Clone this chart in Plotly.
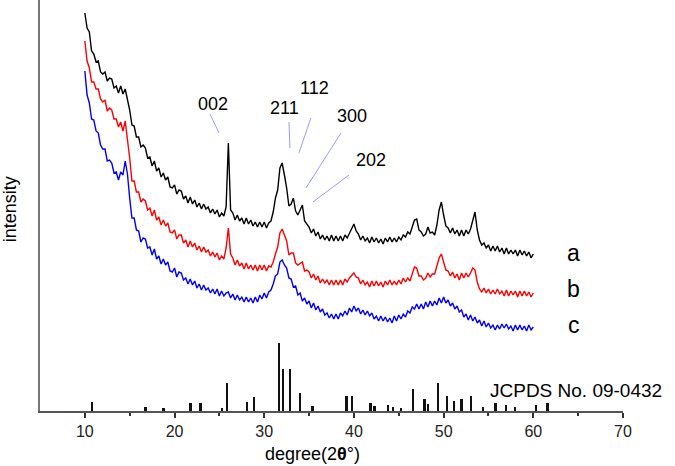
import plotly.graph_objects as go

# 2-theta sampling grid (degrees)
two_theta = [
    10.0, 10.25, 10.5, 10.75, 11.0, 11.25, 11.5, 11.75, 12.0, 12.25, 12.5, 12.75,
    13.0, 13.25, 13.5, 13.75, 14.0, 14.25, 14.5, 14.75, 15.0, 15.25, 15.5, 15.75,
    16.0, 16.25, 16.5, 16.75, 17.0, 17.25, 17.5, 17.75, 18.0, 18.25, 18.5, 18.75,
    19.0, 19.25, 19.5, 19.75, 20.0, 20.25, 20.5, 20.75, 21.0, 21.25, 21.5, 21.75,
    22.0, 22.25, 22.5, 22.75, 23.0, 23.25, 23.5, 23.75, 24.0, 24.25, 24.5, 24.75,
    25.0, 25.25, 25.5, 25.75, 26.0, 26.25, 26.5, 26.75, 27.0, 27.25, 27.5, 27.75,
    28.0, 28.25, 28.5, 28.75, 29.0, 29.25, 29.5, 29.75, 30.0, 30.25, 30.5, 30.75,
    31.0, 31.25, 31.5, 31.75, 32.0, 32.25, 32.5, 32.75, 33.0, 33.25, 33.5, 33.75,
    34.0, 34.25, 34.5, 34.75, 35.0, 35.25, 35.5, 35.75, 36.0, 36.25, 36.5, 36.75,
    37.0, 37.25, 37.5, 37.75, 38.0, 38.25, 38.5, 38.75, 39.0, 39.25, 39.5, 39.75,
    40.0, 40.25, 40.5, 40.75, 41.0, 41.25, 41.5, 41.75, 42.0, 42.25, 42.5, 42.75,
    43.0, 43.25, 43.5, 43.75, 44.0, 44.25, 44.5, 44.75, 45.0, 45.25, 45.5, 45.75,
    46.0, 46.25, 46.5, 46.75, 47.0, 47.25, 47.5, 47.75, 48.0, 48.25, 48.5, 48.75,
    49.0, 49.25, 49.5, 49.75, 50.0, 50.25, 50.5, 50.75, 51.0, 51.25, 51.5, 51.75,
    52.0, 52.25, 52.5, 52.75, 53.0, 53.25, 53.5, 53.75, 54.0, 54.25, 54.5, 54.75,
    55.0, 55.25, 55.5, 55.75, 56.0, 56.25, 56.5, 56.75, 57.0, 57.25, 57.5, 57.75,
    58.0, 58.25, 58.5, 58.75, 59.0, 59.25, 59.5, 59.75, 60.0,
]

# sample a (black)
intensity_a = [
    398, 383, 379, 360, 357, 349, 350, 339, 337, 339, 330, 333,
    332, 323, 325, 318, 325, 317, 322, 313, 301, 286, 285, 274,
    274, 264, 266, 263, 253, 254, 245, 250, 240, 243, 234, 238,
    231, 234, 224, 223, 226, 217, 221, 220, 212, 215, 208, 214,
    207, 211, 204, 208, 202, 207, 202, 204, 198, 202, 197, 201,
    194, 198, 195, 204, 268, 201, 198, 191, 196, 190, 193, 187,
    193, 187, 191, 185, 189, 184, 189, 184, 189, 183, 188, 190,
    199, 213, 221, 243, 248, 236, 223, 205, 207, 213, 200, 196,
    201, 206, 190, 187, 184, 178, 182, 175, 179, 172, 176, 171,
    175, 170, 176, 170, 175, 170, 175, 170, 176, 173, 178, 182,
    187, 180, 177, 171, 175, 170, 173, 168, 174, 169, 173, 168,
    172, 167, 173, 169, 174, 169, 173, 169, 174, 171, 176, 174,
    179, 177, 185, 191, 192, 181, 179, 175, 177, 184, 178, 179,
    176, 186, 201, 209, 196, 185, 183, 178, 183, 177, 181, 175,
    181, 175, 181, 177, 182, 191, 199, 181, 171, 166, 168, 163,
    166, 160, 165, 160, 165, 159, 163, 157, 163, 157, 161, 157,
    161, 155, 161, 156, 160, 155, 159, 153, 157,
]

# sample b (red)
intensity_b = [
    370, 350, 343, 329, 329, 322, 322, 312, 309, 311, 300, 303,
    301, 292, 292, 284, 289, 280, 290, 274, 253, 230, 230, 219,
    219, 209, 212, 210, 201, 203, 195, 201, 191, 194, 186, 191,
    185, 188, 179, 178, 181, 172, 176, 176, 168, 171, 164, 170,
    164, 168, 161, 165, 159, 164, 159, 161, 155, 159, 154, 158,
    151, 155, 152, 163, 183, 157, 153, 146, 151, 145, 148, 142,
    148, 142, 146, 141, 146, 140, 146, 141, 146, 140, 145, 144,
    149, 157, 164, 178, 182, 176, 170, 156, 158, 158, 148, 146,
    148, 149, 140, 141, 139, 133, 137, 131, 135, 128, 132, 128,
    131, 126, 131, 126, 131, 126, 131, 126, 132, 129, 133, 135,
    138, 134, 133, 127, 131, 126, 129, 124, 130, 125, 130, 125,
    129, 124, 130, 126, 131, 126, 130, 126, 131, 127, 133, 129,
    133, 130, 138, 144, 143, 135, 135, 131, 133, 138, 134, 137,
    137, 145, 153, 157, 149, 141, 140, 135, 139, 133, 137, 131,
    138, 133, 138, 134, 138, 143, 141, 129, 122, 119, 123, 118,
    122, 117, 121, 117, 122, 117, 120, 115, 121, 115, 120, 116,
    120, 114, 120, 115, 120, 115, 119, 114, 118,
]

# sample c (blue)
intensity_c = [
    340, 316, 308, 292, 291, 280, 278, 266, 262, 262, 250, 251,
    248, 238, 239, 231, 239, 236, 250, 237, 213, 193, 193, 181,
    180, 169, 173, 172, 163, 164, 156, 162, 152, 155, 147, 152,
    146, 149, 140, 139, 143, 134, 139, 138, 131, 133, 127, 132,
    126, 130, 123, 127, 121, 126, 121, 123, 118, 122, 117, 122,
    115, 120, 115, 118, 119, 113, 117, 111, 116, 111, 114, 109,
    114, 109, 113, 108, 114, 109, 116, 112, 118, 113, 119, 121,
    127, 135, 137, 149, 151, 146, 143, 133, 132, 124, 125, 116,
    118, 110, 113, 107, 110, 103, 108, 101, 105, 99, 102, 96,
    98, 93, 97, 92, 97, 92, 98, 95, 100, 96, 103, 99,
    105, 100, 103, 97, 101, 96, 100, 95, 98, 92, 95, 90,
    95, 90, 94, 89, 93, 88, 95, 90, 96, 92, 97, 94,
    100, 98, 104, 102, 107, 102, 107, 102, 109, 104, 110, 105,
    110, 106, 113, 108, 114, 108, 111, 105, 108, 102, 105, 99,
    101, 94, 97, 91, 96, 90, 94, 88, 91, 85, 90, 84,
    88, 83, 86, 81, 86, 82, 87, 83, 87, 82, 85, 80,
    86, 81, 86, 81, 85, 80, 86, 81, 84,
]

# reference pattern JCPDS No. 09-0432 (stick positions and heights)
ref_theta = [10.8, 16.8, 18.8, 21.8, 22.9, 25.3, 25.9, 28.1, 28.9, 31.7, 32.1, 32.9,
             34.0, 35.4, 39.2, 39.8, 41.9, 42.3, 43.8, 44.4, 45.3, 46.6, 47.9, 48.3,
             49.4, 50.4, 51.2, 52.0, 53.1, 54.4, 55.8, 57.0, 58.0, 60.3, 61.6]
ref_height = [9, 4, 3, 8, 8, 3, 28, 9, 14, 68, 42, 42,
              18, 5, 15, 15, 8, 5, 6, 4, 3, 22, 12, 7,
              28, 15, 10, 12, 15, 4, 8, 6, 4, 6, 8]

# peak (hkl) labels
hkl_labels = ["002", "211", "112", "300", "202"]
hkl_label_pos = [(24.3, 307), (32.3, 303), (35.65, 323), (39.8, 295), (41.9, 251)]
hkl_leaders = [((23.95, 297), (24.96, 278)),
               ((32.76, 289), (32.87, 263)),
               ((35.2, 293), (33.87, 258)),
               ((38.56, 278), (34.65, 223)),
               ((39.45, 236), (35.43, 209))]

sample_names = ["a", "b", "c"]
sample_colors = ["#000000", "#ff0000", "#0000ff"]

fig = go.Figure()

for name, ys, col in zip(sample_names, [intensity_a, intensity_b, intensity_c], sample_colors):
    fig.add_trace(go.Scatter(x=two_theta, y=ys, mode="lines", name=name,
                             line=dict(color=col, width=1.4), showlegend=False))

fig.add_trace(go.Bar(x=ref_theta, y=ref_height, width=0.22, marker=dict(color="#111111", line=dict(width=0)),
                     showlegend=False))

font_family = "Arial, Liberation Sans, sans-serif"

for txt, (lx, ly) in zip(hkl_labels, hkl_label_pos):
    fig.add_annotation(x=lx, y=ly, text=txt, showarrow=False,
                       font=dict(size=18, color="#000000", family=font_family))
for (p0, p1) in hkl_leaders:
    fig.add_shape(type="line", x0=p0[0], y0=p0[1], x1=p1[0], y1=p1[1],
                  line=dict(color="#9a9aff", width=1))

for name, ly in zip(sample_names, [158, 122, 86]):
    fig.add_annotation(x=64.5, y=ly, text=name, showarrow=False,
                       font=dict(size=23, color="#000000", family=font_family))

fig.add_annotation(x=64.75, y=21, text="JCPDS No. 09-0432", showarrow=False,
                   font=dict(size=19, color="#000000", family=font_family))

fig.add_annotation(x=0.468, y=-0.105, xref="paper", yref="paper", xanchor="center", yanchor="middle",
                   text="degree(2<b>θ</b>°)", showarrow=False,
                   font=dict(size=18, color="#000000", family=font_family))
fig.add_annotation(x=-0.052, y=0.49, xref="paper", yref="paper", xanchor="center", yanchor="middle",
                   text="intensity", textangle=-90, showarrow=False,
                   font=dict(size=18, color="#000000", family=font_family))

fig.update_layout(
    width=675, height=466,
    margin=dict(l=40, r=52, t=0, b=55),
    paper_bgcolor="white", plot_bgcolor="white",
    bargap=0,
    xaxis=dict(range=[5, 70], tickvals=[10, 20, 30, 40, 50, 60, 70], ticks="outside",
               ticklen=5, tickwidth=2, tickcolor="#333333",
               showline=True, linecolor="#555555", linewidth=2, showgrid=False, zeroline=False,
               tickfont=dict(size=16, color="#222222", family=font_family),
               minor=dict(tickvals=[15, 25, 35, 45, 55, 65], ticks="outside", ticklen=3,
                          tickwidth=2, tickcolor="#333333")),
    yaxis=dict(range=[0, 411], showticklabels=False, ticks="", showgrid=False, zeroline=False,
               showline=True, linecolor="#777777", linewidth=2),
)

fig.write_html("out.html", config={"displayModeBar": False},
               post_script="document.body.style.margin='0';document.body.style.overflow='hidden';")
